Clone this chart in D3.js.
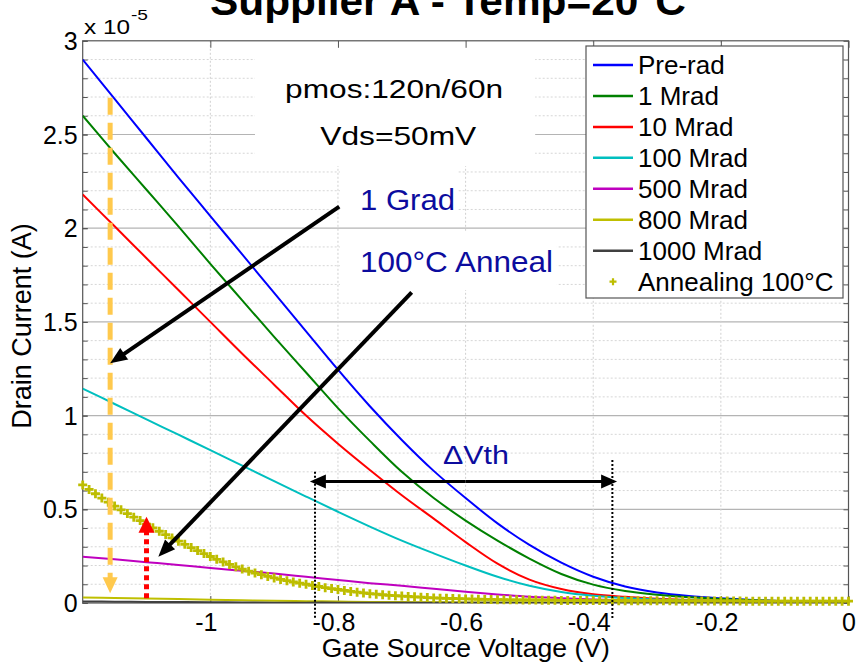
<!DOCTYPE html>
<html>
<head>
<meta charset="utf-8">
<script src="https://cdn.jsdelivr.net/npm/d3@7"></script>
<style>
  html, body { margin: 0; padding: 0; background: #fff; }
  svg { display: block; font-family: "Liberation Sans", Arial, Helvetica, sans-serif; }
</style>
</head>
<body>
<svg id="chart" width="856" height="665"></svg>
<script>
// ---- Measured Id-Vgs sweeps (drain current in units of 1e-5 A) ----
const vgs = [-1.2, -1.15, -1.1, -1.05, -1.0, -0.95, -0.9, -0.85, -0.8, -0.75, -0.7, -0.65,
             -0.6, -0.55, -0.5, -0.45, -0.4, -0.35, -0.3, -0.25, -0.2, -0.15, -0.1, -0.05, 0];

const preRad   = [2.90, 2.69, 2.48, 2.27, 2.065, 1.86, 1.655, 1.45, 1.245, 1.05, 0.87, 0.705,
                  0.56, 0.425, 0.31, 0.215, 0.14, 0.088, 0.056, 0.037, 0.025, 0.016, 0.010, 0.006, 0.004];
const mrad1    = [2.60, 2.40, 2.205, 2.01, 1.81, 1.615, 1.42, 1.23, 1.04, 0.865, 0.70, 0.56,
                  0.44, 0.333, 0.237, 0.155, 0.098, 0.064, 0.044, 0.031, 0.022, 0.015, 0.010, 0.006, 0.004];
const mrad10   = [2.18, 2.01, 1.84, 1.67, 1.50, 1.33, 1.165, 1.00, 0.85, 0.71, 0.575, 0.45,
                  0.325, 0.21, 0.125, 0.075, 0.047, 0.033, 0.023, 0.016, 0.011, 0.008, 0.005, 0.003, 0.002];
const mrad100  = [1.144, 1.062, 0.980, 0.898, 0.816, 0.733, 0.650, 0.568, 0.487, 0.408, 0.333, 0.265,
                  0.200, 0.140, 0.092, 0.059, 0.039, 0.027, 0.019, 0.013, 0.009, 0.006, 0.004, 0.003, 0.002];
const mrad500  = [0.247, 0.233, 0.218, 0.203, 0.187, 0.172, 0.157, 0.140, 0.123, 0.106, 0.092, 0.076,
                  0.060, 0.046, 0.034, 0.026, 0.019, 0.014, 0.010, 0.007, 0.005, 0.004, 0.003, 0.002, 0.001];
const mrad800  = [0.030, 0.027, 0.024, 0.021, 0.018, 0.015, 0.012, 0.010, 0.008, 0.006, 0.005, 0.004,
                  0.003, 0.003, 0.002, 0.002, 0.002, 0.001, 0.001, 0.001, 0.001, 0.001, 0.001, 0.001, 0.001];
const mrad1000 = [0.008, 0.007, 0.006, 0.005, 0.004, 0.003, 0.002, 0.002, 0.002, 0.001, 0.001, 0.001,
                  0.001, 0.001, 0.001, 0.001, 0.001, 0.001, 0.001, 0.001, 0.001, 0.001, 0.001, 0.001, 0.001];

// Annealing at 100°C, fine sweep: starts at -1.2 V, 10 mV per step
const annealStart = -1.2;
const annealStep = 0.01;
const annealing = [
  0.630, 0.606, 0.583, 0.560, 0.538, 0.517, 0.497, 0.477, 0.458, 0.440, 0.421,
  0.401, 0.383, 0.365, 0.347, 0.330, 0.313, 0.296, 0.280, 0.264, 0.248,
  0.233, 0.219, 0.206, 0.193, 0.181, 0.170, 0.160, 0.151, 0.142, 0.134,
  0.126, 0.119, 0.112, 0.106, 0.100, 0.094, 0.088, 0.082, 0.077, 0.072,
  0.067, 0.062, 0.058, 0.054, 0.050, 0.047, 0.044, 0.041, 0.039, 0.037,
  0.035, 0.033, 0.031, 0.029, 0.027, 0.026, 0.025, 0.024, 0.023, 0.022,
  0.021, 0.020, 0.019, 0.019, 0.018, 0.018, 0.017, 0.017, 0.016, 0.016,
  0.016, 0.015, 0.015, 0.015, 0.014, 0.014, 0.014, 0.014, 0.013, 0.013,
  0.013, 0.013, 0.013, 0.012, 0.012, 0.012, 0.012, 0.012, 0.012, 0.012,
  0.012, 0.012, 0.011, 0.011, 0.011, 0.011, 0.011, 0.011, 0.011, 0.011,
  0.011, 0.011, 0.011, 0.010, 0.010, 0.010, 0.010, 0.010, 0.010, 0.010,
  0.010, 0.010, 0.010, 0.010, 0.010, 0.010, 0.010, 0.010, 0.010, 0.010
];

const seriesNames = ["Pre-rad", "1 Mrad", "10 Mrad", "100 Mrad", "500 Mrad", "800 Mrad", "1000 Mrad"];
const seriesValues = [preRad, mrad1, mrad10, mrad100, mrad500, mrad800, mrad1000];
const annealName = "Annealing 100°C";

const xTicks = [-1, -0.8, -0.6, -0.4, -0.2, 0];
const xTickLabels = ["-1", "-0.8", "-0.6", "-0.4", "-0.2", "0"];
const xGrid = [-1, -0.8, -0.6, -0.4, -0.2];
const yTicks = [0, 0.5, 1, 1.5, 2, 2.5, 3];
const yTickLabels = ["0", "0.5", "1", "1.5", "2", "2.5", "3"];
const yMinor = [0.1, 0.2, 0.3, 0.4, 0.6, 0.7, 0.8, 0.9, 1.1, 1.2, 1.3, 1.4, 1.6, 1.7, 1.8, 1.9,
                2.1, 2.2, 2.3, 2.4, 2.6, 2.7, 2.8, 2.9];

const titleText = "Supplier A - Temp=20°C";
const xLabel = "Gate Source Voltage (V)";
const yLabel = "Drain Current (A)";

// ---- Styling ----
const seriesColors = ["#0000ff", "#008000", "#ff0000", "#00bfbf", "#bf00bf", "#bfbf00", "#404040"];
const annealColor = "#bdbd00";
const noteBlue = "#0c0c9e";

const svg = d3.select("#chart");
const W = 856, H = 665;
const plot = { left: 82.7, right: 848.5, top: 40.8, bottom: 603 };

const x = d3.scaleLinear().domain([-1.2, 0]).range([plot.left, plot.right]);
const y = d3.scaleLinear().domain([0, 3]).range([plot.bottom, plot.top]);

svg.append("rect").attr("width", W).attr("height", H).attr("fill", "#fff");

// clip for the plotted curves
svg.append("defs").append("clipPath").attr("id", "plotClip")
  .append("rect")
  .attr("x", plot.left).attr("y", plot.top)
  .attr("width", plot.right - plot.left).attr("height", plot.bottom - plot.top);

// ---- Grid ----
const grid = svg.append("g");
grid.selectAll("line.minor").data(yMinor).join("line")
  .attr("x1", plot.left).attr("x2", plot.right)
  .attr("y1", d => y(d)).attr("y2", d => y(d))
  .attr("stroke", "#d6d6d6").attr("stroke-width", 1).attr("stroke-dasharray", "2,2");
grid.selectAll("line.major").data(yTicks.filter(d => d > 0 && d < 3)).join("line")
  .attr("x1", plot.left).attr("x2", plot.right)
  .attr("y1", d => y(d)).attr("y2", d => y(d))
  .attr("stroke", "#b4b4b4").attr("stroke-width", 1.2);
grid.selectAll("line.vx").data(xGrid).join("line")
  .attr("x1", d => x(d)).attr("x2", d => x(d))
  .attr("y1", plot.top).attr("y2", plot.bottom)
  .attr("stroke", "#d0d0d0").attr("stroke-width", 1).attr("stroke-dasharray", "2,2");

// white backgrounds behind the text notes
const noteBoxes = [
  { v0: -0.930, v1: -0.491, i0: 2.332, i1: 3.0 },
  { v0: -0.797, v1: -0.612, i0: 2.012, i1: 2.311 },
  { v0: -0.797, v1: -0.457, i0: 1.670, i1: 1.980 }
];
svg.append("g").selectAll("rect").data(noteBoxes).join("rect")
  .attr("x", d => x(d.v0)).attr("width", d => x(d.v1) - x(d.v0))
  .attr("y", d => y(d.i1)).attr("height", d => y(d.i0) - y(d.i1))
  .attr("fill", "#fff");

// ---- Axes (ticks point inward) ----
const axisColor = "#555";
function styleAxis(g) {
  g.select(".domain").remove();
  g.selectAll(".tick line").attr("stroke", axisColor).attr("stroke-width", 1);
  g.selectAll(".tick text").attr("fill", "#000").attr("font-size", 25)
    .attr("font-family", "Liberation Sans, Arial, sans-serif");
}
svg.append("g").attr("transform", `translate(${plot.left},0)`)
  .call(d3.axisLeft(y).tickValues(yMinor.concat(yTicks)).tickSize(-5).tickFormat(""))
  .call(styleAxis);
svg.append("g").attr("transform", `translate(${plot.left},0)`)
  .call(d3.axisLeft(y).tickValues(yTicks).tickSize(-5).tickPadding(5)
    .tickFormat((d, i) => yTickLabels[i]))
  .call(styleAxis)
  .call(g => g.selectAll(".tick text").attr("dy", "0.34em"));
svg.append("g").attr("transform", `translate(${plot.right},0)`)
  .call(d3.axisRight(y).tickValues(yMinor.concat(yTicks)).tickSize(-5).tickFormat(""))
  .call(styleAxis);
svg.append("g").attr("transform", `translate(0,${plot.bottom})`)
  .call(d3.axisBottom(x).tickValues(xTicks).tickSize(-7).tickPadding(10)
    .tickFormat((d, i) => xTickLabels[i]))
  .call(styleAxis)
  .call(g => g.selectAll(".tick text").attr("dx", d => d < 0 ? -4.5 : 0));
svg.append("g").attr("transform", `translate(0,${plot.top})`)
  .call(d3.axisTop(x).tickValues(xTicks).tickSize(-7).tickFormat(""))
  .call(styleAxis);

svg.append("rect")
  .attr("x", plot.left).attr("y", plot.top)
  .attr("width", plot.right - plot.left).attr("height", plot.bottom - plot.top)
  .attr("fill", "none").attr("stroke", axisColor).attr("stroke-width", 1.2);

// ---- Curves ----
const line = d3.line()
  .x(d => x(d[0])).y(d => y(d[1]))
  .curve(d3.curveCatmullRom.alpha(0.5));

const curves = svg.append("g").attr("clip-path", "url(#plotClip)");
seriesValues.forEach((vals, k) => {
  curves.append("path")
    .datum(vgs.map((v, i) => [v, vals[i]]))
    .attr("d", line)
    .attr("fill", "none")
    .attr("stroke", seriesColors[k])
    .attr("stroke-width", 2);
});

// annealing: dense '+' markers
const annealPts = annealing.map((c, i) => [annealStart + i * annealStep, c]);
svg.append("g").selectAll("path").data(annealPts).join("path")
  .attr("transform", d => `translate(${x(d[0])},${y(d[1])})`)
  .attr("d", "M-4.5,0H4.5M0,-4.5V4.5")
  .attr("stroke", annealColor).attr("stroke-width", 2.8).attr("fill", "none");

// ---- Annotations ----
function arrow(g, x1, y1, x2, y2, o) {
  const dx = x2 - x1, dy = y2 - y1, L = Math.hypot(dx, dy);
  const ux = dx / L, uy = dy / L;
  const bx = x2 - ux * o.head, by = y2 - uy * o.head;
  g.append("line")
    .attr("x1", x1).attr("y1", y1).attr("x2", bx + ux * 1).attr("y2", by + uy * 1)
    .attr("stroke", o.color).attr("stroke-width", o.width)
    .attr("stroke-dasharray", o.dash || null);
  const hw = o.headW / 2;
  g.append("path")
    .attr("d", `M${x2},${y2}L${bx - uy * hw},${by + ux * hw}L${bx + uy * hw},${by - ux * hw}Z`)
    .attr("fill", o.color);
}

const ann = svg.append("g");

// threshold shift markers
const dvthLow = -0.836, dvthHigh = -0.370;
[[dvthLow, 0.70], [dvthHigh, 0.763]].forEach(([v, top]) => {
  ann.append("line")
    .attr("x1", x(v)).attr("x2", x(v))
    .attr("y1", y(top)).attr("y2", y(-0.09))
    .attr("stroke", "#000").attr("stroke-width", 2).attr("stroke-dasharray", "2,2");
});
arrow(ann, x(-0.60), y(0.648), x(-0.844), y(0.648), { color: "#000", width: 3, head: 16, headW: 14 });
arrow(ann, x(-0.60), y(0.648), x(-0.3626), y(0.648), { color: "#000", width: 3, head: 16, headW: 14 });

// degradation and recovery arrows
arrow(ann, x(-1.157), y(2.696), x(-1.157), y(0.052),
  { color: "#ffc94d", width: 5, head: 16, headW: 15, dash: "17,8" });
arrow(ann, x(-1.100), y(0.025), x(-1.100), y(0.46),
  { color: "#ff0000", width: 5, head: 16, headW: 16, dash: "5,4" });

arrow(ann, x(-0.798), y(2.115), x(-1.157), y(1.279), { color: "#000", width: 4, head: 17, headW: 14 });
arrow(ann, x(-0.6845), y(1.658), x(-1.0815), y(0.247), { color: "#000", width: 4, head: 17, headW: 14 });

// text notes
function note(txt, v, c, o) {
  const t = svg.append("text")
    .attr("x", x(v)).attr("y", y(c))
    .attr("font-size", o.size)
    .attr("fill", o.color || "#000")
    .attr("text-anchor", o.anchor || "start")
    .text(txt);
  if (o.len) t.attr("textLength", o.len).attr("lengthAdjust", "spacingAndGlyphs");
  return t;
}
note("pmos:120n/60n", -0.712, 2.693, { size: 25.5, anchor: "middle", len: 218 });
note("Vds=50mV", -0.7055, 2.444, { size: 25.5, anchor: "middle", len: 156 });
note("1 Grad", -0.7655, 2.098, { size: 30, color: noteBlue, len: 95 });
note("100°C Anneal", -0.7655, 1.768, { size: 30, color: noteBlue, len: 193 });
note("ΔVth", -0.6354, 0.742, { size: 25.5, color: noteBlue, len: 66 });

// ---- Titles / labels ----
svg.append("text")
  .attr("x", 448).attr("y", 15)
  .attr("text-anchor", "middle")
  .attr("font-size", 41).attr("font-weight", "bold")
  .attr("textLength", 476).attr("lengthAdjust", "spacingAndGlyphs")
  .text(titleText);

svg.append("text")
  .attr("x", 465.8).attr("y", 657)
  .attr("text-anchor", "middle").attr("font-size", 25)
  .attr("textLength", 288).attr("lengthAdjust", "spacingAndGlyphs")
  .text(xLabel);

svg.append("text")
  .attr("transform", "translate(31,326) rotate(-90)")
  .attr("text-anchor", "middle").attr("font-size", 27)
  .text(yLabel);

// exponent label
svg.append("text").attr("x", 84).attr("y", 34).attr("font-size", 21)
  .attr("textLength", 46).attr("lengthAdjust", "spacingAndGlyphs").text("x 10");
svg.append("text").attr("x", 131).attr("y", 20).attr("font-size", 15)
  .attr("textLength", 17).attr("lengthAdjust", "spacingAndGlyphs").text("-5");

// ---- Legend ----
const leg = svg.append("g");
leg.append("rect")
  .attr("x", 586).attr("y", 46).attr("width", 257).attr("height", 252)
  .attr("fill", "#fff").attr("stroke", "#555").attr("stroke-width", 1.2);
const legRowY = d3.range(8).map(i => 65 + i * 30.95);
seriesNames.forEach((name, i) => {
  leg.append("line")
    .attr("x1", 593).attr("x2", 633)
    .attr("y1", legRowY[i]).attr("y2", legRowY[i])
    .attr("stroke", seriesColors[i]).attr("stroke-width", 2.5);
  leg.append("text")
    .attr("x", 638).attr("y", legRowY[i] + 9)
    .attr("font-size", 26).text(name);
});
leg.append("path")
  .attr("transform", `translate(613,${legRowY[7]})`)
  .attr("d", "M-3.5,0H3.5M0,-3.5V3.5")
  .attr("stroke", annealColor).attr("stroke-width", 2.2);
leg.append("text")
  .attr("x", 638).attr("y", legRowY[7] + 9)
  .attr("font-size", 26).text(annealName);
</script>
</body>
</html>
